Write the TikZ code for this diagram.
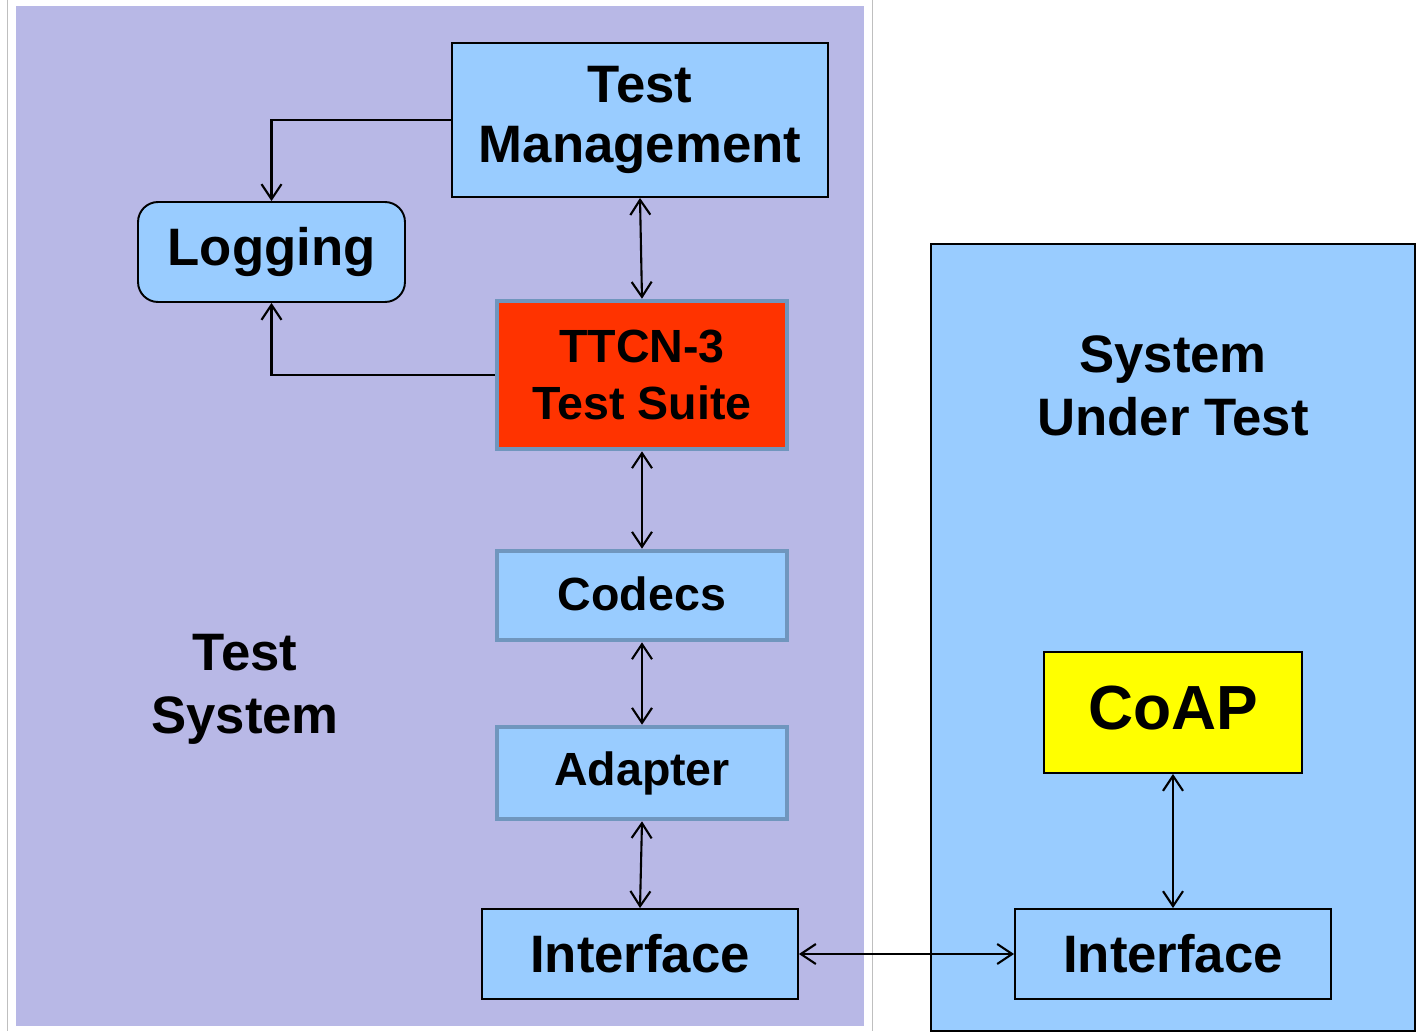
\documentclass[tikz,border=0pt]{standalone}
\usepackage{fontspec}
\setmainfont{Liberation Sans}
\usetikzlibrary{arrows.meta}
\definecolor{panelpurple}{RGB}{184,184,230}
\definecolor{boxblue}{RGB}{153,204,255}
\definecolor{suitered}{RGB}{255,51,0}
\definecolor{steelline}{RGB}{112,150,190}
\definecolor{coapyellow}{RGB}{255,255,0}
\begin{document}
\begin{tikzpicture}[x=0.02cm, y=-0.02cm,
		blackbox/.style={draw=black, line width=1.1pt, fill=boxblue, align=center, inner sep=0pt,
			font=\fontsize{30}{36}\selectfont\bfseries},
		steelbox/.style={draw=steelline, line width=2.6pt, fill=boxblue, align=center, inner sep=0pt,
			font=\fontsize{26.5}{32}\selectfont\bfseries},
		label/.style={align=center, font=\fontsize{30}{36}\selectfont\bfseries},
		conn/.style={line width=1.2pt, {Straight Barb[length=3mm,width=4mm]}-{Straight Barb[length=3mm,width=4mm]}},
		oneway/.style={line width=1.2pt, -{Straight Barb[length=3mm,width=4mm]}}]
	\useasboundingbox (0,0) rectangle (1419,1031);
	\fill[white] (0,0) rectangle (1419,1031);
	
	%panels
	\draw[very thin, lightgray] (7,0)--(7,1031);
	\draw[very thin, lightgray] (872,0)--(872,1031);
	\fill[panelpurple] (16,6) rectangle (864,1026);
	\draw[line width=1.1pt, fill=boxblue] (931,244) rectangle (1415,1031);
	\node[label] (testsys) at (245,689) {Test\\System};
	\node[label] (sutlabel) at (1173,386) {System\\Under Test};
	
	%test system boxes
	\node[blackbox, minimum width=7.52cm, minimum height=3.08cm] (mgmt) at (640,120) {\raisebox{-5pt}{Test}\\\raisebox{-3pt}{Management}};
	\node[blackbox, rounded corners=0.4cm, minimum width=5.34cm, minimum height=2cm] (logging) at (271.5,252) {Logging};
	\node[steelbox, fill=suitered, minimum width=5.8cm, minimum height=2.96cm] (suite) at (642,375) {TTCN-3\\Test Suite};
	\node[steelbox, minimum width=5.8cm, minimum height=1.78cm] (codecs) at (642,595.5) {\raisebox{2pt}{Codecs}};
	\node[steelbox, minimum width=5.8cm, minimum height=1.84cm] (adapter) at (642,773) {Adapter};
	\node[blackbox, minimum width=6.32cm, minimum height=1.8cm] (tsif) at (640,954) {Interface};
	
	%system under test boxes
	\node[blackbox, fill=coapyellow, minimum width=5.16cm, minimum height=2.42cm,
		font=\fontsize{35.5}{40}\selectfont\bfseries] (coap) at (1173,712.5) {\raisebox{6pt}{CoAP}};
	\node[blackbox, minimum width=6.32cm, minimum height=1.8cm] (sutif) at (1173,954) {Interface};
	
	%connectors
	\draw[oneway] (mgmt.west) -| (logging.north);
	\draw[oneway] (suite.west) -| (logging.south);
	\draw[conn] (mgmt.south) -- (suite.north);
	\draw[conn] (suite.south) -- (codecs.north);
	\draw[conn] (codecs.south) -- (adapter.north);
	\draw[conn] (adapter.south) -- (tsif.north);
	\draw[conn] (tsif.east) -- (sutif.west);
	\draw[conn] (coap.south) -- (sutif.north);
\end{tikzpicture}
\end{document}
